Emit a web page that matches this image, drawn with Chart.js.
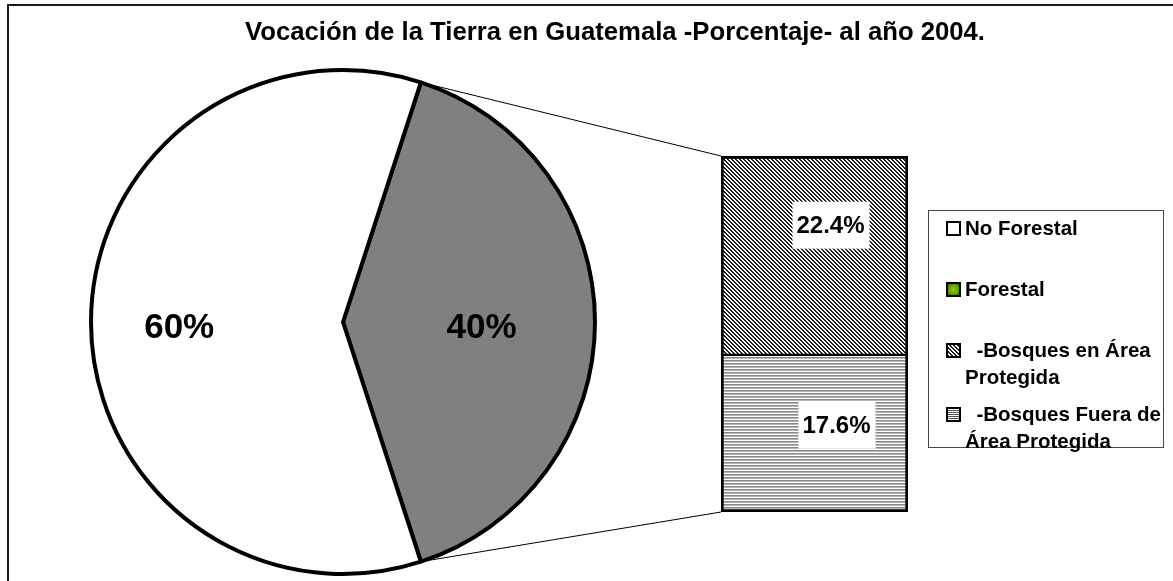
<!DOCTYPE html>
<html>
<head>
<meta charset="utf-8">
<script src="https://cdn.jsdelivr.net/npm/chart.js@4.4.1/dist/chart.umd.min.js"></script>
<style>
  html, body { margin: 0; padding: 0; background: #ffffff; }
  #wrap { position: relative; width: 1173px; height: 581px; overflow: hidden;
          font-family: "Liberation Sans", Arial, sans-serif; }
  #frame { position: absolute; left: 7px; top: 4px; width: 1300px; height: 700px;
           border-left: 2px solid #1a1a1a; border-top: 2px solid #1a1a1a; }
  canvas { position: absolute; left: 0; top: 0; }
  #title { position: absolute; left: 57px; width: 1116px; top: 16px; line-height: 30px; text-align: center;
           font-weight: bold; font-size: 25.7px; color: #000; white-space: nowrap; }
  #legend { position: absolute; left: 928px; top: 210px; width: 236px; height: 238px;
            border: 1px solid #444; box-sizing: border-box; background: #fff; }
  .lg-item { position: absolute; left: 0; width: 234px; }
  .lg-icon { position: absolute; left: 17px; width: 15px; height: 15px; box-sizing: border-box;
             border: 2px solid #000; }
  .lg-text { position: absolute; left: 36px; font-weight: bold; font-size: 20.5px; line-height: 27px;
             color: #000; white-space: nowrap; }
</style>
</head>
<body>
<div id="wrap">
  <div id="frame"></div>
  <canvas id="pieCanvas" width="1173" height="581"></canvas>
  <canvas id="barCanvas" width="1173" height="581"></canvas>
  <div id="title">Vocación de la Tierra en Guatemala -Porcentaje- al año 2004.</div>
  <div id="legend"></div>
</div>
<script>
// Land use split (percent)
const pieCategories = ['Forestal', 'No Forestal'];
const pieValues = [40, 60];

// Breakdown of the forest share, bottom segment first
const barCategories = ['-Bosques Fuera de Área Protegida', '-Bosques en Área Protegida'];
const barValues = [17.6, 22.4];

// Legend entries in display order
const legendLabels = ['No Forestal', 'Forestal', '-Bosques en Área Protegida', '-Bosques Fuera de Área Protegida'];

// Fill patterns for the stacked bar
function makePattern(ctx, kind) {
  const c = document.createElement('canvas');
  const g = c.getContext('2d');
  if (kind === 'diag') {
    c.width = 4; c.height = 4;
    g.fillStyle = '#ffffff'; g.fillRect(0, 0, 4, 4);
    g.fillStyle = '#1e1e1e';
    for (let y = 0; y < 4; y++)
      for (let x = 0; x < 4; x++)
        if ((((x - y) % 4) + 4) % 4 < 2) g.fillRect(x, y, 1, 1);
  } else {
    c.width = 3; c.height = 3;
    g.fillStyle = '#ffffff'; g.fillRect(0, 0, 3, 3);
    g.fillStyle = '#8a8a8a'; g.fillRect(0, 0, 3, 1);
    g.fillStyle = '#b4b4b4'; g.fillRect(0, 1, 3, 1);
  }
  return ctx.createPattern(c, 'repeat');
}

// Percent labels inside the pie slices
const pieLabelRadius = [0.55, 0.65];
const pieLabels = {
  id: 'pieLabels',
  afterDatasetsDraw(chart) {
    const ctx = chart.ctx;
    const meta = chart.getDatasetMeta(0);
    ctx.save();
    ctx.font = 'bold 35px "Liberation Sans", Arial, sans-serif';
    ctx.fillStyle = '#000';
    ctx.textAlign = 'center';
    ctx.textBaseline = 'middle';
    meta.data.forEach((arc, i) => {
      const p = arc.getProps(['x', 'y', 'startAngle', 'endAngle', 'outerRadius'], true);
      const mid = (p.startAngle + p.endAngle) / 2;
      const r = p.outerRadius * pieLabelRadius[i];
      ctx.fillText(pieValues[i] + '%', p.x + Math.cos(mid) * r, p.y + Math.sin(mid) * r + 6);
    });
    ctx.restore();
  }
};

const pieCtx = document.getElementById('pieCanvas').getContext('2d');
const pieChart = new Chart(pieCtx, {
  type: 'pie',
  data: {
    labels: pieCategories,
    datasets: [{
      data: pieValues,
      backgroundColor: ['#808080', '#ffffff'],
      borderColor: '#000000',
      borderWidth: 4
    }]
  },
  options: {
    responsive: false,
    animation: false,
    rotation: 18,
    radius: 252,
    layout: { padding: { left: 0, right: 487, top: 63, bottom: 0 } },
    plugins: { legend: { display: false }, tooltip: { enabled: false }, title: { display: false } }
  },
  plugins: [pieLabels]
});

// Lines joining the forest slice to the breakdown bar
const connectors = {
  id: 'connectors',
  beforeDatasetsDraw(chart) {
    const arc = pieChart.getDatasetMeta(0).data[0];
    const p = arc.getProps(['x', 'y', 'startAngle', 'endAngle', 'outerRadius'], true);
    const area = chart.chartArea;
    const ctx = chart.ctx;
    ctx.save();
    ctx.strokeStyle = '#000';
    ctx.lineWidth = 1;
    ctx.beginPath();
    ctx.moveTo(p.x + Math.cos(p.startAngle) * p.outerRadius, p.y + Math.sin(p.startAngle) * p.outerRadius);
    ctx.lineTo(area.left, area.top);
    ctx.moveTo(p.x + Math.cos(p.endAngle) * p.outerRadius, p.y + Math.sin(p.endAngle) * p.outerRadius);
    ctx.lineTo(area.left, area.bottom);
    ctx.stroke();
    ctx.restore();
  }
};

// Boxed value labels on the bar segments
const barLabelOffset = [{ dx: 22, dy: -8 }, { dx: 16, dy: -30 }];
const barLabels = {
  id: 'barLabels',
  afterDatasetsDraw(chart) {
    const ctx = chart.ctx;
    ctx.save();
    ctx.font = 'bold 24px "Liberation Sans", Arial, sans-serif';
    ctx.textAlign = 'center';
    ctx.textBaseline = 'middle';
    chart.data.datasets.forEach((ds, i) => {
      const el = chart.getDatasetMeta(i).data[0];
      const p = el.getProps(['x', 'y', 'base'], true);
      const cx = p.x + barLabelOffset[i].dx;
      const cy = (p.y + p.base) / 2 + barLabelOffset[i].dy;
      const txt = ds.data[0].toFixed(1) + '%';
      ctx.fillStyle = '#ffffff';
      ctx.fillRect(cx - 38, cy - 24, 77, 47);
      ctx.fillStyle = '#000000';
      ctx.fillText(txt, cx, cy + 1);
    });
    ctx.restore();
  }
};

const barCtx = document.getElementById('barCanvas').getContext('2d');
const barFills = [makePattern(barCtx, 'horiz'), makePattern(barCtx, 'diag')];
const barBorders = [
  { left: 3, right: 3, bottom: 3, top: 1 },
  { left: 3, right: 3, top: 3, bottom: 2 }
];
const barChart = new Chart(barCtx, {
  type: 'bar',
  data: {
    labels: [''],
    datasets: barCategories.map((name, i) => ({
      label: name,
      data: [barValues[i]],
      backgroundColor: barFills[i],
      borderColor: '#000000',
      borderWidth: barBorders[i],
      borderSkipped: false,
      barPercentage: 1,
      categoryPercentage: 1
    }))
  },
  options: {
    responsive: false,
    animation: false,
    layout: { padding: { left: 721, right: 265, top: 156, bottom: 69 } },
    scales: {
      x: { display: false, stacked: true },
      y: { display: false, stacked: true, min: 0, max: 40 }
    },
    plugins: { legend: { display: false }, tooltip: { enabled: false } }
  },
  plugins: [connectors, barLabels]
});

// Legend box
const legendIcons = [
  'background:#ffffff;',
  'background:radial-gradient(circle, #8fd000 0%, #6aa600 55%, #3f6600 100%);',
  'background:repeating-linear-gradient(45deg, #1e1e1e 0 1.4px, #ffffff 1.4px 2.8px);',
  'background:repeating-linear-gradient(0deg, #ffffff 0 1px, #555555 1px 2px);'
];
const legendRows = [
  { top: 3, lines: ['No Forestal'] },
  { top: 64, lines: ['Forestal'] },
  { top: 125, lines: ['&nbsp; -Bosques en Área', 'Protegida'] },
  { top: 189, lines: ['&nbsp; -Bosques Fuera de', 'Área Protegida'] }
];
const legendEl = document.getElementById('legend');
legendLabels.forEach((label, i) => {
  const row = legendRows[i];
  const item = document.createElement('div');
  item.className = 'lg-item';
  item.style.top = row.top + 'px';
  item.innerHTML = '<div class="lg-icon" style="top:7px;' + legendIcons[i] + '"></div>' +
    '<div class="lg-text" title="' + label + '">' + row.lines.join('<br>') + '</div>';
  legendEl.appendChild(item);
});
</script>
</body>
</html>
